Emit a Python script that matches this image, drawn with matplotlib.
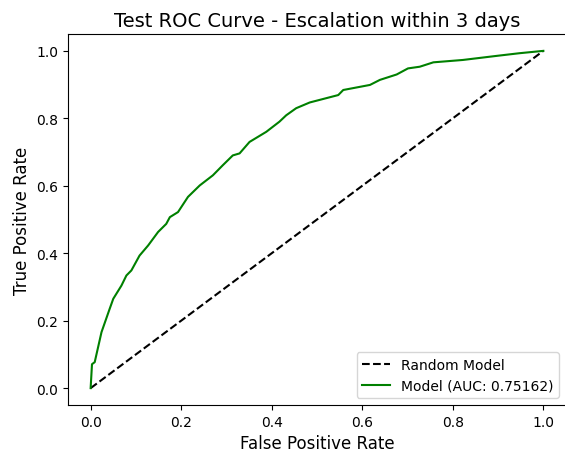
import matplotlib
matplotlib.use("Agg")
import matplotlib.pyplot as plt

# ROC points
fpr = [0.0, 0.003, 0.009, 0.024, 0.042, 0.05, 0.068, 0.079, 0.09, 0.108,
       0.127, 0.149, 0.167, 0.175, 0.193, 0.215, 0.241, 0.270, 0.292, 0.314,
       0.329, 0.351, 0.388, 0.417, 0.432, 0.454, 0.484, 0.547, 0.558, 0.617,
       0.639, 0.676, 0.701, 0.727, 0.757, 0.822, 0.896, 0.947, 1.0]
tpr = [0.0, 0.071, 0.077, 0.166, 0.235, 0.265, 0.304, 0.334, 0.349, 0.393,
       0.423, 0.463, 0.487, 0.507, 0.522, 0.567, 0.601, 0.631, 0.661, 0.690,
       0.696, 0.730, 0.760, 0.790, 0.809, 0.830, 0.847, 0.869, 0.884, 0.899,
       0.914, 0.930, 0.948, 0.953, 0.966, 0.973, 0.985, 0.993, 1.0]
auc = 0.75162

fig = plt.figure(figsize=(5.65, 4.52), dpi=100)
ax = fig.add_axes([68 / 565, 1 - 406 / 452, 498 / 565, 371 / 452])

ax.plot([0, 1], [0, 1], 'k--', label='Random Model')
ax.plot(fpr, tpr, color='green', label='Model (AUC: {:.5f})'.format(auc))

ax.set_xlabel('False Positive Rate', fontsize=12)
ax.set_ylabel('True Positive Rate', fontsize=12)
ax.set_title('Test ROC Curve - Escalation within 3 days', fontsize=14)
ax.legend(loc='lower right')

fig.savefig('out.png', dpi=100)
